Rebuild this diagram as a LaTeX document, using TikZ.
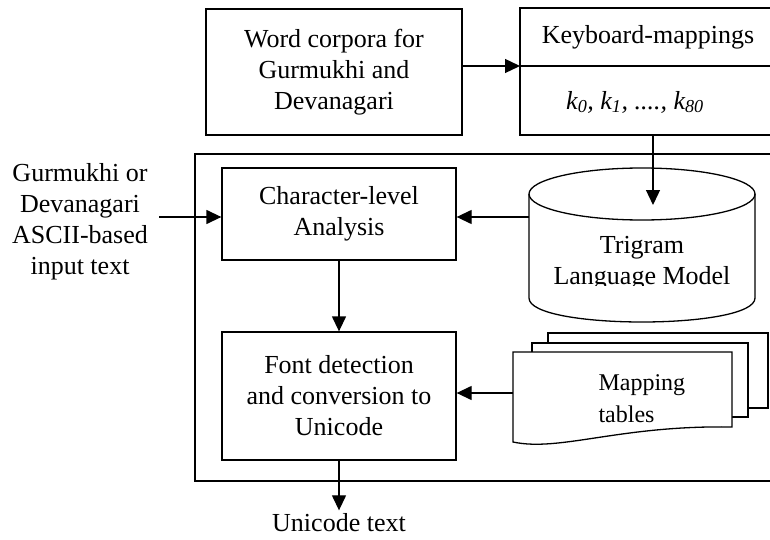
\documentclass[tikz,border=0pt]{standalone}
\usepackage{fontspec}
\setmainfont{Liberation Serif}
\usetikzlibrary{arrows.meta}

\begin{document}
\begin{tikzpicture}[x=1pt, y=-1pt,
    every node/.style={font=\fontsize{26}{31}\selectfont, align=center},
    box/.style={draw, line width=1.3pt, inner sep=0pt},
    line/.style={line width=1.3pt},
    arr/.style={line width=1.3pt, -{Triangle[length=15pt, width=14pt]}}]
  \useasboundingbox (0,0) rectangle (770,540);
  \clip (0,0) rectangle (770,540);
  \draw[line] (195,154) rectangle (778,481);
  \node[box, minimum width=256pt, minimum height=126pt] (corpora) at (334,72) {Word corpora for\\Gurmukhi and\\Devanagari};
  \node[box, minimum width=258pt, minimum height=127pt] (keymap) at (649,71.5) {};
  \coordinate (split) at (520,66);
  \draw[line] (split) -- (split -| keymap.east);
  \node (kbtitle) at (648,37) {Keyboard-mappings};
  \node (kbkeys) at (635,102) {\itshape k\textsubscript{0}, k\textsubscript{1}, ...., k\textsubscript{80}};
  \draw[arr] (corpora.east |- split) -- (split);
  \node[box, minimum width=234pt, minimum height=92pt] (char) at (339,214) {Character-level\\Analysis};
  \node[box, minimum width=234pt, minimum height=128pt] (fontconv) at (339,396) {Font detection\\and conversion to\\Unicode};
  \node (input) at (80,222) {Gurmukhi or\\Devanagari\\ASCII-based\\input text};
  \node (output) at (339,523) {Unicode text};
  \draw[line, fill=white] (529,194) -- (529,298) .. controls (529,330) and (755,330) .. (755,298) -- (755,194);
  \draw[line] (642,194) ellipse [x radius=113, y radius=26];
  \begin{scope}
    \clip (529,150) rectangle (755,285);
    \node (lmtext) at (642,263) {Trigram\\Language Model};
  \end{scope}
  \coordinate (lmtop) at (653,205);
  \coordinate (lmwest) at (529,217);
  \draw[line, fill=white] (548,333) rectangle (768,408);
  \draw[line, fill=white] (532,343) rectangle (748,417);
  \draw[line, fill=white] (513,352) -- (732,352) -- (732,427) .. controls (620,425) and (560,452) .. (513,442) -- cycle;
  \node[anchor=west, align=left, font=\fontsize{24}{32}\selectfont] (maptext) at (595,399) {Mapping\\tables};
  \coordinate (mapwest) at (513,393);
  \coordinate (inarrow) at (159,217);
  \draw[arr] (keymap.south -| lmtop) -- (lmtop);
  \draw[arr] (lmwest) -- (lmwest -| char.east);
  \draw[arr] (inarrow) -- (inarrow -| char.west);
  \draw[arr] (char) -- (fontconv);
  \draw[arr] (mapwest) -- (mapwest -| fontconv.east);
  \draw[arr] (fontconv) -- (output);
\end{tikzpicture}
\end{document}
